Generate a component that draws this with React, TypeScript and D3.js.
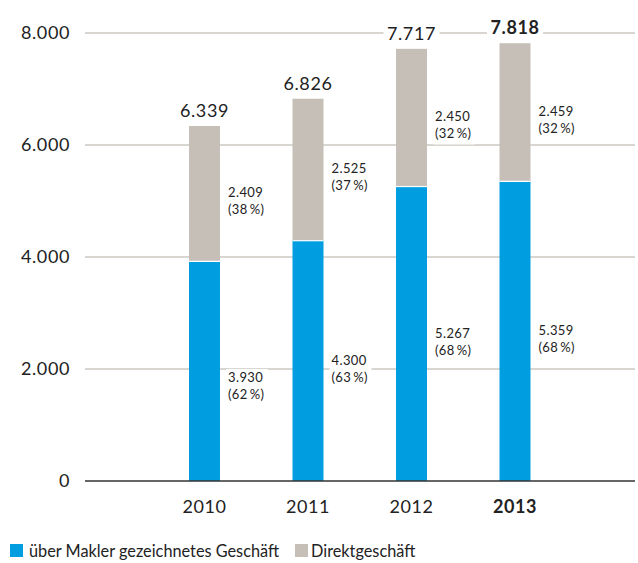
import React from "react";
import * as d3 from "d3";

const WIDTH = 638;
const HEIGHT = 563;
const FONT = "Lato, 'Open Sans', sans-serif";

const years = ["2010", "2011", "2012", "2013"];
const makler = [3930, 4300, 5267, 5359];
const direkt = [2409, 2525, 2450, 2459];
const totals = [6339, 6826, 7717, 7818];
const maklerPct = [62, 63, 68, 68];
const direktPct = [38, 37, 32, 32];
const yTicks = [0, 2000, 4000, 6000, 8000];

const BLUE = "#009ee0";
const GREY = "#c6bfb8";
const GRID = "#b3aba3";

const fmt = (v: number) => d3.format(",")(v).replace(/,/g, ".");

const SegLabel = ({ x, y, value, pct }: { x: number; y: number; value: number; pct: number }) => (
  <g>
    <rect x={x - 2} y={y - 9} width={42} height={36} fill="white" />
    <text x={x} y={y + 4} fontSize={13} fill="#222" fontFamily={FONT} letterSpacing={0.4}>
      {fmt(value)}
    </text>
    <text x={x} y={y + 21} fontSize={13} fill="#222" fontFamily={FONT} letterSpacing={0.4}>
      {`(${pct}\u2009%)`}
    </text>
  </g>
);

export default function App() {
  const y = d3.scaleLinear().domain([0, 8000]).range([481, 33]);
  const x = d3.scalePoint().domain(years).range([152.75, 566.75]).padding(0.5);
  const barW = 31;

  return (
    <svg
      width={WIDTH}
      height={HEIGHT}
      style={{ position: "absolute", left: 0, top: 0, background: "white" }}
    >
      {yTicks.map((t) => (
        <g key={t}>
          {t > 0 && <line x1={85} x2={635} y1={y(t)} y2={y(t)} stroke={GRID} strokeWidth={1} />}
          <text
            x={70}
            y={y(t)}
            dy="0.36em"
            textAnchor="end"
            fontSize={18}
            fill="#222"
            fontFamily={FONT}
            letterSpacing={0.6}
          >
            {fmt(t)}
          </text>
        </g>
      ))}

      {years.map((yr, i) => {
        const cx = x(yr) as number;
        const left = cx - barW / 2;
        const isLast = i === years.length - 1;
        return (
          <g key={yr}>
            <rect x={left} y={y(makler[i])} width={barW} height={y(0) - y(makler[i])} fill={BLUE} />
            <rect
              x={left}
              y={y(totals[i])}
              width={barW}
              height={y(makler[i]) - y(totals[i])}
              fill={GREY}
            />
            <line
              x1={left}
              x2={left + barW}
              y1={y(makler[i]) + 0.5}
              y2={y(makler[i]) + 0.5}
              stroke="white"
              strokeWidth={1.2}
            />
            <rect x={cx - 28} y={y(totals[i]) - 26} width={56} height={20} fill="white" />
            <text
              x={cx}
              y={y(totals[i]) - 9}
              textAnchor="middle"
              fontSize={18}
              fontWeight={isLast ? 700 : 400}
              fill="#222"
              fontFamily={FONT}
              letterSpacing={0.6}
            >
              {fmt(totals[i])}
            </text>
            <SegLabel
              x={left + barW + 8}
              y={(y(makler[i]) + y(totals[i])) / 2}
              value={direkt[i]}
              pct={direktPct[i]}
            />
            <SegLabel
              x={left + barW + 8}
              y={(y(0) + y(makler[i])) / 2 + (i === 0 ? 7 : 0)}
              value={makler[i]}
              pct={maklerPct[i]}
            />
            <text
              x={cx}
              y={513}
              textAnchor="middle"
              fontSize={18}
              fontWeight={isLast ? 700 : 400}
              fill="#222"
              fontFamily={FONT}
              letterSpacing={0.6}
            >
              {yr}
            </text>
          </g>
        );
      })}

      <line x1={85} x2={635} y1={y(0)} y2={y(0)} stroke="#333" strokeWidth={1.5} />

      <g transform="translate(10,544)">
        <rect x={0} y={0} width={13} height={13} fill={BLUE} />
        <text x={19} y={12.5} fontSize={16.3} fill="#222" fontFamily={FONT}>
          über Makler gezeichnetes Geschäft
        </text>
        <rect x={285} y={0} width={13} height={13} fill={GREY} />
        <text x={301} y={12.5} fontSize={16.3} fill="#222" fontFamily={FONT}>
          Direktgeschäft
        </text>
      </g>
    </svg>
  );
}
